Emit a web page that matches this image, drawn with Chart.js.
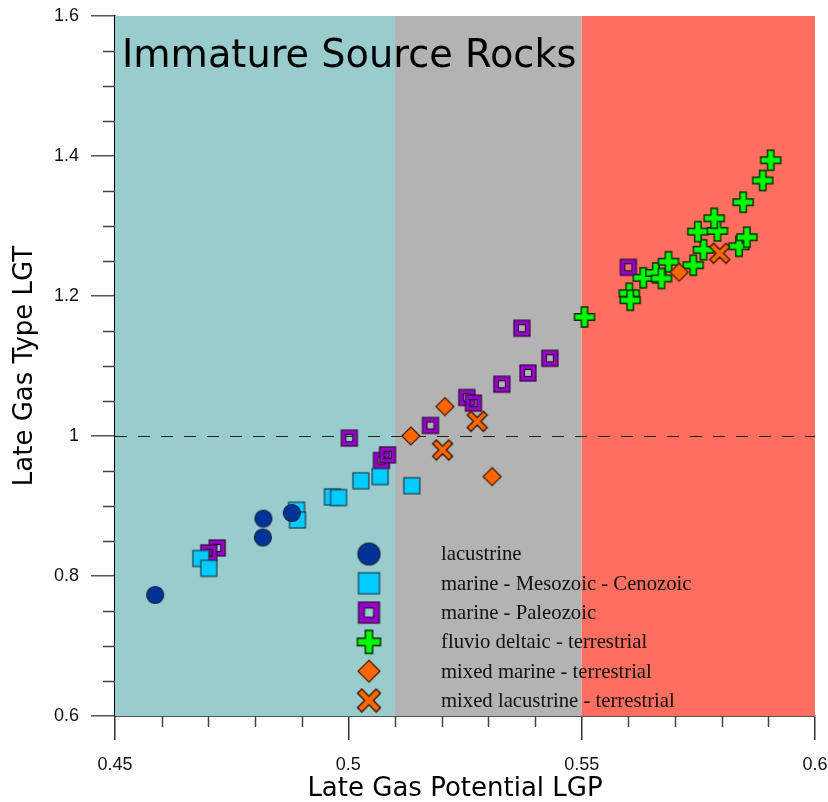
<!DOCTYPE html>
<html>
<head>
<meta charset="utf-8">
<script src="https://cdn.jsdelivr.net/npm/chart.js@4.4.1/dist/chart.umd.min.js"></script>
<style>
html, body { margin: 0; padding: 0; background: #fff; }
</style>
</head>
<body>
<canvas id="chart" width="828" height="802"></canvas>
<script>
// lacustrine
const lacX = [0.4586, 0.4817, 0.4818, 0.4879];
const lacY = [0.773, 0.855, 0.882, 0.890];
// marine - Mesozoic - Cenozoic
const mesoX = [0.4684, 0.4701, 0.4889, 0.4891, 0.4966, 0.4979, 0.5027, 0.5068, 0.5136];
const mesoY = [0.825, 0.811, 0.894, 0.880, 0.913, 0.912, 0.936, 0.942, 0.929];
// marine - Paleozoic
const paleoX = [0.4719, 0.4701, 0.5002, 0.5071, 0.5084, 0.5176, 0.5254, 0.5268, 0.5329, 0.5372, 0.5385, 0.5432, 0.5600];
const paleoY = [0.840, 0.833, 0.997, 0.965, 0.973, 1.015, 1.055, 1.047, 1.074, 1.154, 1.090, 1.111, 1.241];
// fluvio deltaic - terrestrial
const fluvX = [0.5506, 0.5602, 0.5604, 0.5632, 0.5659, 0.5671, 0.5686, 0.5739, 0.5761, 0.5749, 0.5791, 0.5784, 0.5837, 0.5854, 0.5846, 0.5888, 0.5905];
const fluvY = [1.170, 1.204, 1.194, 1.226, 1.233, 1.225, 1.249, 1.244, 1.266, 1.292, 1.293, 1.311, 1.271, 1.284, 1.334, 1.365, 1.394];
// mixed marine - terrestrial
const mmX = [0.5134, 0.5207, 0.5308, 0.5709];
const mmY = [1.000, 1.042, 0.942, 1.234];
// mixed lacustrine - terrestrial
const mlX = [0.5202, 0.5276, 0.5796];
const mlY = [0.980, 1.021, 1.261];

const seriesNames = ['lacustrine', 'marine - Mesozoic - Cenozoic', 'marine - Paleozoic',
    'fluvio deltaic - terrestrial', 'mixed marine - terrestrial', 'mixed lacustrine - terrestrial'];
const markerKinds = ['circle', 'square', 'hollow', 'plus', 'diamond', 'cross'];

// maturity bands along x
const bandEdges = [0.45, 0.51, 0.55, 0.6];
const bandColors = ['#99CCCC', '#B3B3B3', '#FF6E5E'];
const refLineY = 1.0;
const xMinorTicks = [0.46, 0.47, 0.48, 0.49, 0.51, 0.52, 0.53, 0.54, 0.56, 0.57, 0.58, 0.59];
const yMinorTicks = [0.65, 0.7, 0.75, 0.85, 0.9, 0.95, 1.05, 1.1, 1.15, 1.25, 1.3, 1.35, 1.45, 1.5, 1.55];

function makeMarker(kind, s) {
    const c = document.createElement('canvas');
    c.width = c.height = Math.ceil(s + 4);
    const ctx = c.getContext('2d');
    const cx = c.width / 2, cy = c.height / 2, h = s / 2;
    ctx.lineJoin = 'miter';
    if (kind === 'circle') {
        ctx.beginPath();
        ctx.arc(cx, cy, h - 0.5, 0, Math.PI * 2);
        ctx.fillStyle = '#003399';
        ctx.fill();
        ctx.lineWidth = 1.2;
        ctx.strokeStyle = '#1b2440';
        ctx.stroke();
    } else if (kind === 'square') {
        ctx.fillStyle = '#00CCFF';
        ctx.fillRect(cx - h, cy - h, s, s);
        ctx.lineWidth = 1.2;
        ctx.strokeStyle = '#1f3b4d';
        ctx.strokeRect(cx - h, cy - h, s, s);
    } else if (kind === 'hollow') {
        const ih = s * 0.22;
        ctx.fillStyle = '#9900CC';
        ctx.fillRect(cx - h, cy - h, s, s);
        ctx.clearRect(cx - ih, cy - ih, ih * 2, ih * 2);
        ctx.lineWidth = 1.2;
        ctx.strokeStyle = '#2a1033';
        ctx.strokeRect(cx - h, cy - h, s, s);
        ctx.strokeRect(cx - ih, cy - ih, ih * 2, ih * 2);
    } else if (kind === 'diamond') {
        ctx.beginPath();
        ctx.moveTo(cx, cy - h);
        ctx.lineTo(cx + h, cy);
        ctx.lineTo(cx, cy + h);
        ctx.lineTo(cx - h, cy);
        ctx.closePath();
        ctx.fillStyle = '#FF6600';
        ctx.fill();
        ctx.lineWidth = 1.2;
        ctx.strokeStyle = '#3d1a00';
        ctx.stroke();
    } else {
        // plus or rotated plus (x)
        const w = s * (kind === 'plus' ? 0.16 : 0.14);
        const L = kind === 'plus' ? h : h * 1.2;
        ctx.save();
        ctx.translate(cx, cy);
        if (kind === 'cross') ctx.rotate(Math.PI / 4);
        ctx.beginPath();
        ctx.moveTo(-w, -L); ctx.lineTo(w, -L); ctx.lineTo(w, -w); ctx.lineTo(L, -w);
        ctx.lineTo(L, w); ctx.lineTo(w, w); ctx.lineTo(w, L); ctx.lineTo(-w, L);
        ctx.lineTo(-w, w); ctx.lineTo(-L, w); ctx.lineTo(-L, -w); ctx.lineTo(-w, -w);
        ctx.closePath();
        ctx.fillStyle = kind === 'plus' ? '#00FF00' : '#FF6600';
        ctx.fill();
        ctx.lineWidth = 1.4;
        ctx.strokeStyle = kind === 'plus' ? '#0b2a05' : '#3d1a00';
        ctx.stroke();
        ctx.restore();
    }
    return c;
}

const pointSizes = [18, 16, 16, 20, 18, 19];
const legendSizes = [23, 21, 21, 23, 22, 22];
const dataMarkers = markerKinds.map((k, i) => makeMarker(k, pointSizes[i]));
const legendMarkers = markerKinds.map((k, i) => makeMarker(k, legendSizes[i]));

function toPoints(xs, ys) {
    return xs.map((x, i) => ({ x: x, y: ys[i] }));
}
const allX = [lacX, mesoX, paleoX, fluvX, mmX, mlX];
const allY = [lacY, mesoY, paleoY, fluvY, mmY, mlY];
// draw order: crosses on top, paleozoic squares at the bottom
const drawOrder = [3, 4, 5, 2, 1, 0];

const bgPlugin = {
    id: 'bands',
    beforeDatasetsDraw(chart) {
        const { ctx, chartArea, scales } = chart;
        ctx.save();
        for (let i = 0; i < bandColors.length; i++) {
            const x0 = scales.x.getPixelForValue(bandEdges[i]);
            const x1 = scales.x.getPixelForValue(bandEdges[i + 1]);
            ctx.fillStyle = bandColors[i];
            ctx.fillRect(x0, chartArea.top, x1 - x0, chartArea.bottom - chartArea.top);
        }
        // reference line LGT = 1
        const yy = Math.round(scales.y.getPixelForValue(refLineY)) + 0.5;
        ctx.setLineDash([12, 11]);
        ctx.lineWidth = 1;
        ctx.strokeStyle = '#222';
        ctx.beginPath();
        ctx.moveTo(chartArea.left, yy);
        ctx.lineTo(chartArea.right, yy);
        ctx.stroke();
        ctx.setLineDash([]);
        // big label
        ctx.fillStyle = '#000';
        ctx.font = '38.3px "DejaVu Sans"';
        ctx.textBaseline = 'alphabetic';
        ctx.fillText('Immature Source Rocks', chartArea.left + 7, chartArea.top + 51);
        ctx.restore();
    },
    afterDatasetsDraw(chart) {
        const { ctx, chartArea } = chart;
        ctx.save();
        // legend
        const mx = chartArea.left + 254, tx = chartArea.left + 326;
        ctx.font = '20.7px "Liberation Serif"';
        ctx.fillStyle = '#111';
        ctx.textBaseline = 'middle';
        seriesNames.forEach((name, i) => {
            const y = chartArea.top + 538 + i * 29.3;
            const m = legendMarkers[i];
            ctx.drawImage(m, mx - m.width / 2, y - m.height / 2);
            ctx.fillText(name, tx, y + 1);
        });
        ctx.restore();
    },
    afterDraw(chart) {
        const { ctx, chartArea, scales } = chart;
        ctx.save();
        ctx.strokeStyle = '#444';
        ctx.lineWidth = 1.5;
        ctx.beginPath();
        xMinorTicks.forEach(v => {
            const px = Math.round(scales.x.getPixelForValue(v)) + 0.5;
            ctx.moveTo(px, chartArea.bottom);
            ctx.lineTo(px, chartArea.bottom + 11);
        });
        yMinorTicks.forEach(v => {
            const py = Math.round(scales.y.getPixelForValue(v)) + 0.5;
            ctx.moveTo(chartArea.left, py);
            ctx.lineTo(chartArea.left - 12, py);
        });
        ctx.stroke();
        // axis titles
        ctx.fillStyle = '#000';
        ctx.font = '26px "DejaVu Sans"';
        ctx.textAlign = 'center';
        ctx.textBaseline = 'middle';
        ctx.fillText('Late Gas Potential LGP', chartArea.left + 340, 789);
        ctx.translate(25, (chartArea.top + chartArea.bottom) / 2);
        ctx.rotate(-Math.PI / 2);
        ctx.fillText('Late Gas Type LGT', 0, 0);
        ctx.restore();
    }
};

const fmt = v => Number(v.toFixed(2)).toString();

new Chart(document.getElementById('chart'), {
    type: 'scatter',
    data: {
        datasets: seriesNames.map((name, i) => ({
            label: name,
            data: toPoints(allX[i], allY[i]),
            pointStyle: dataMarkers[i],
            pointRadius: pointSizes[i] / 2,
            order: drawOrder[i]
        }))
    },
    options: {
        responsive: false,
        animation: false,
        layout: { padding: { top: 16, right: 13, left: 0, bottom: 0 } },
        plugins: { legend: { display: false }, tooltip: { enabled: false } },
        scales: {
            x: {
                type: 'linear', min: 0.45, max: 0.6,
                border: { display: true, color: '#555', width: 2 },
                grid: { display: true, drawOnChartArea: false, drawTicks: true, tickLength: 24, color: '#333', lineWidth: 1.5 },
                ticks: { stepSize: 0.05, padding: 14, color: '#111', font: { family: '"Liberation Sans"', size: 18 }, callback: fmt, maxRotation: 0 },
                afterFit(scale) { scale.height = 86; scale.paddingLeft = 0; scale.paddingRight = 0; }
            },
            y: {
                type: 'linear', min: 0.6, max: 1.6,
                border: { display: true, color: '#000', width: 1.5 },
                grid: { display: true, drawOnChartArea: false, drawTicks: true, tickLength: 24, color: '#555', lineWidth: 1.5 },
                ticks: { stepSize: 0.2, padding: 12, color: '#111', font: { family: '"Liberation Sans"', size: 18 }, callback: fmt },
                afterFit(scale) { scale.width = 115; scale.paddingTop = 0; scale.paddingBottom = 0; }
            }
        }
    },
    plugins: [bgPlugin]
});
</script>
</body>
</html>
